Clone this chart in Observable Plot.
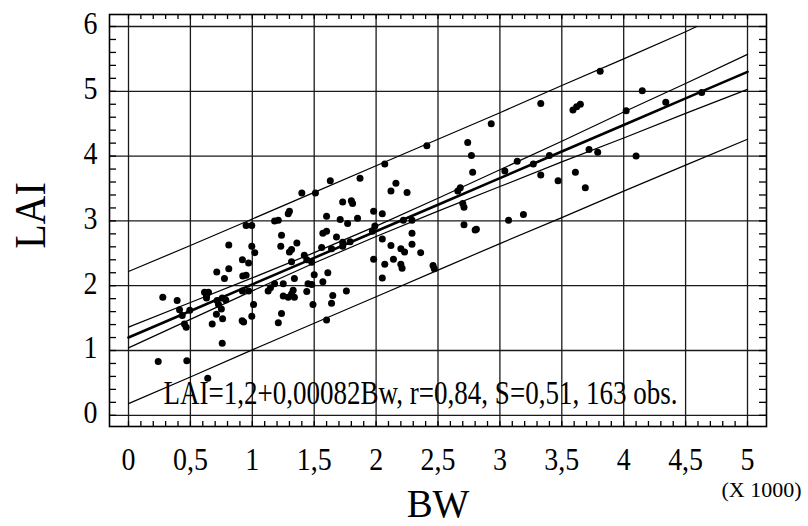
<!DOCTYPE html>
<html><head><meta charset="utf-8">
<script src="https://cdn.jsdelivr.net/npm/d3@7"></script>
<script src="https://cdn.jsdelivr.net/npm/@observablehq/plot@0.6"></script>
<style>body{margin:0;background:#fff}</style>
</head><body><div id="chart"></div>
<script>
// Observations: BW (x1000) and LAI
const bw = [
0.277,0.393,0.412,0.434,0.452,0.466,0.495,0.24,0.471,0.64,
0.614,0.63,0.646,0.63,0.713,0.775,0.81,0.81,0.716,0.727,
0.757,0.786,0.75,0.71,0.76,0.676,0.757,0.92,0.97,0.923,
0.95,0.92,0.97,0.95,0.996,0.996,1.02,1.01,0.918,0.996,
0.93,1.18,1.21,1.29,1.30,1.236,1.23,1.30,1.317,1.36,
1.317,1.128,1.147,1.18,1.25,1.25,1.29,1.317,1.34,1.34,
1.33,1.236,1.21,
2.41,2.07,1.63,1.87,1.40,1.51,2.16,2.12,2.25,1.73,
1.80,1.81,1.60,1.71,1.77,1.85,1.98,2.05,2.22,2.29,
1.99,1.97,1.57,1.60,1.68,1.73,1.73,1.79,1.56,1.64,
2.05,2.12,2.20,2.23,2.29,2.29,2.36,1.98,2.07,2.14,
2.20,2.21,2.46,2.47,2.05,1.42,1.44,1.48,1.61,1.50,
1.57,1.45,1.48,1.44,1.76,1.65,
1.49,1.64,1.60,
2.93,2.74,2.77,2.78,3.59,2.68,2.66,2.70,2.71,2.71,
2.80,2.81,3.04,3.14,3.27,3.40,3.33,3.47,3.61,3.69,
3.72,3.79,3.07,3.19,
4.15,4.02,4.34,4.63,4.10,3.81,
3.33,3.62,3.65
];
const lai = [
1.82,1.77,1.63,1.54,1.41,1.36,1.62,0.83,0.84,0.57,
1.90,1.85,1.90,1.81,2.21,2.11,2.26,2.63,1.77,1.71,
1.81,1.78,1.64,1.56,1.49,1.41,1.11,2.40,2.35,2.15,
2.16,1.92,1.92,2.93,2.93,2.61,2.51,1.71,1.46,1.53,
1.44,3.00,3.01,3.11,3.15,2.78,2.61,2.52,2.56,2.66,
2.37,1.92,1.97,2.03,2.03,1.84,1.82,1.87,2.11,1.82,
1.93,1.57,1.43,
4.16,3.88,3.62,3.66,3.43,3.43,3.58,3.46,3.44,3.29,
3.31,3.27,3.07,3.02,2.96,3.04,3.15,3.11,3.01,3.01,
2.92,2.84,2.81,2.84,2.75,2.67,2.61,2.68,2.59,2.57,
2.72,2.62,2.57,2.52,2.64,2.81,2.51,2.41,2.33,2.41,
2.33,2.27,2.31,2.26,2.12,2.47,2.40,2.36,2.20,2.17,
2.06,2.03,2.02,1.91,1.92,1.85,
1.71,1.73,1.47,
4.50,4.21,4.01,3.75,4.71,3.51,3.46,3.27,3.21,2.94,
2.86,2.87,3.77,3.92,3.88,4.01,3.71,3.62,3.75,3.51,
4.10,4.06,3.01,3.10,
5.01,4.70,4.83,4.98,4.00,5.31,
4.81,4.76,4.80
];

// Fitted line and bands
const bandX    = [0, 0.5, 1, 1.5, 2, 2.5, 3, 3.5, 4, 4.5, 5];
const fitY     = [1.20, 1.61, 2.02, 2.43, 2.84, 3.25, 3.66, 4.07, 4.48, 4.89, 5.30];
const confUp   = [1.36, 1.74, 2.12, 2.51, 2.92, 3.35, 3.79, 4.23, 4.68, 5.12, 5.57];
const confLow  = [1.04, 1.48, 1.92, 2.35, 2.76, 3.15, 3.53, 3.91, 4.28, 4.66, 5.03];
const predUpX  = [0, 0.5, 1, 1.5, 2, 2.5, 3, 3.5, 4, 4.5, 4.59];
const predUp   = [2.22, 2.62, 3.03, 3.44, 3.85, 4.26, 4.67, 5.09, 5.50, 5.92, 6.00];
const predLow  = [0.18, 0.59, 1.01, 1.42, 1.83, 2.24, 2.65, 3.05, 3.46, 3.86, 4.26];

// Axis ticks and labels
const xTicks = [0, 0.5, 1, 1.5, 2, 2.5, 3, 3.5, 4, 4.5, 5];
const xTickLabels = ["0", "0,5", "1", "1,5", "2", "2,5", "3", "3,5", "4", "4,5", "5"];
const yTicks = [0, 1, 2, 3, 4, 5, 6];
const yTickLabels = ["0", "1", "2", "3", "4", "5", "6"];
const xLabel = "BW";
const yLabel = "LAI";
const xUnit = "(X 1000)";
const equation = "LAI=1,2+0,00082Bw, r=0,84, S=0,51, 163 obs.";

const xMinor = d3.range(0, 51).map(i => i / 10);
const yMinor = d3.range(0, 31).map(i => i / 5);

const W = 808, H = 526;
const mL = 109, mR = 42, mT = 14, mB = 100;
const frameW = W - mL - mR, frameH = H - mT - mB;

const pts = bw.map((x, i) => ({bw: x, lai: lai[i]}));
const mk = (xs, ys) => xs.map((x, i) => ({x, y: ys[i]}));

const grid = "#1a1a1a";
const chart = Plot.plot({
  width: W, height: H,
  marginLeft: mL, marginRight: mR, marginTop: mT, marginBottom: mB,
  style: {fontFamily: "'Liberation Serif', 'Times New Roman', serif", background: "#fff", color: "#000"},
  x: {type: "linear", domain: [0, 5], range: [128, 747], axis: null},
  y: {type: "linear", domain: [0, 6], range: [414.8, 26], axis: null},
  marks: [
    Plot.ruleX(xTicks, {x: d => d, stroke: grid, strokeWidth: 1.3}),
    Plot.ruleY(yTicks, {y: d => d, stroke: grid, strokeWidth: 1.3}),
    Plot.ruleX(xMinor, {x: d => d, insetBottom: frameH - 5, stroke: "#000", strokeWidth: 1.3}),
    Plot.ruleX(xMinor, {x: d => d, insetTop: frameH - 5, stroke: "#000", strokeWidth: 1.3}),
    Plot.ruleY(yMinor, {y: d => d, insetRight: frameW - 7, stroke: "#000", strokeWidth: 1.3}),
    Plot.ruleY(yMinor, {y: d => d, insetLeft: frameW - 7, stroke: "#000", strokeWidth: 1.3}),
    Plot.line(mk(predUpX, predUp), {x: "x", y: "y", stroke: "#000", strokeWidth: 1.2}),
    Plot.line(mk(bandX, predLow), {x: "x", y: "y", stroke: "#000", strokeWidth: 1.2}),
    Plot.line(mk(bandX, confUp), {x: "x", y: "y", stroke: "#000", strokeWidth: 1.2}),
    Plot.line(mk(bandX, confLow), {x: "x", y: "y", stroke: "#000", strokeWidth: 1.2}),
    Plot.line(mk(bandX, fitY), {x: "x", y: "y", stroke: "#000", strokeWidth: 2.6}),
    Plot.dot(pts, {x: "bw", y: "lai", r: 3.5, fill: "#000", stroke: "none"}),
    Plot.frame({stroke: "#000", strokeWidth: 1.6}),
    Plot.text(xTicks, {x: d => d, text: (d, i) => xTickLabels[i], frameAnchor: "bottom", lineAnchor: "middle", textAnchor: "middle", dy: 34, fontSize: 31, fill: "#000"}),
    Plot.text(yTicks, {y: d => d, text: (d, i) => yTickLabels[i], frameAnchor: "left", lineAnchor: "middle", dx: -12, dy: -2, textAnchor: "end", fontSize: 31, fill: "#000"}),
    Plot.text([yLabel], {text: d => d, frameAnchor: "left", lineAnchor: "middle", textAnchor: "middle", dx: -79, dy: -5, rotate: -90, fontSize: 45, fill: "#000"}),
    Plot.text([xLabel], {text: d => d, frameAnchor: "bottom", lineAnchor: "middle", textAnchor: "middle", dy: 77, fontSize: 41, fill: "#000"}),
    Plot.text([xUnit], {text: d => d, frameAnchor: "bottom-right", lineAnchor: "middle", textAnchor: "end", dx: 35, dy: 63, fontSize: 22, fill: "#000"}),
    Plot.text([equation], {text: d => d, frameAnchor: "bottom-left", lineAnchor: "middle", textAnchor: "start", dx: 54, dy: -33, fontSize: 33, fill: "#000"})
  ]
});
document.getElementById("chart").appendChild(chart);

// Condense the serif glyphs horizontally, as in the original
const factors = {};
factors[yLabel] = 0.89; factors[xLabel] = 0.95;
chart.querySelectorAll("text").forEach(t => {
  const s = t.textContent;
  if (s === xUnit) return;
  const w = t.getComputedTextLength();
  if (!w) return;
  let target;
  if (s === equation) target = 514;
  else target = w * (factors[s] ?? 0.9);
  t.setAttribute("textLength", target);
  t.setAttribute("lengthAdjust", "spacingAndGlyphs");
});
</script>
</body></html>
